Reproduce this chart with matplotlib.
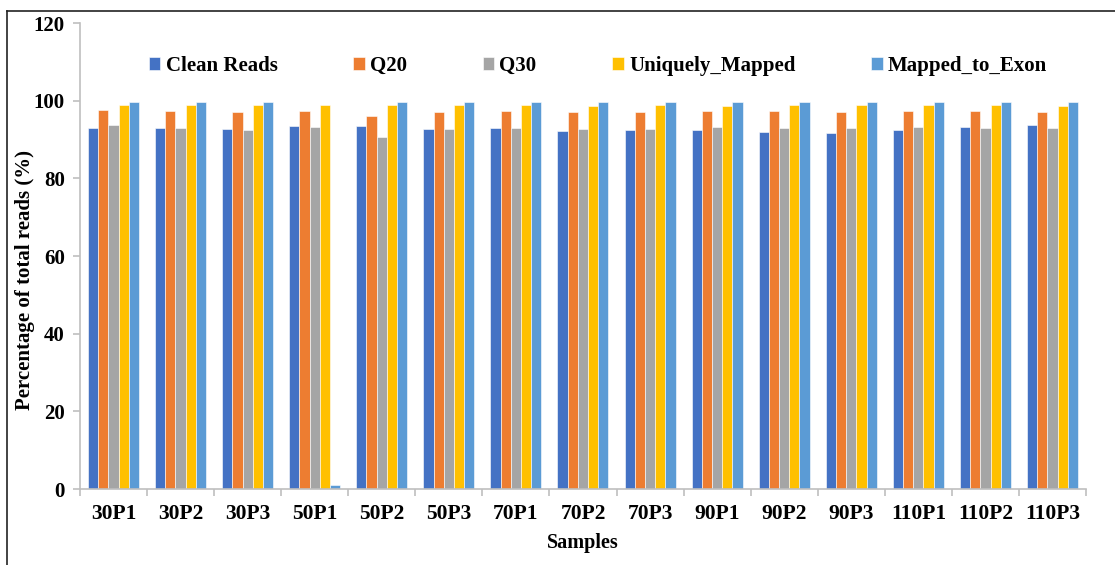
import matplotlib
matplotlib.use("Agg")
import matplotlib.pyplot as plt
from matplotlib.lines import Line2D
import numpy as np

plt.rcParams['font.family'] = ['Liberation Serif', 'DejaVu Serif']
plt.rcParams['font.weight'] = 'bold'
plt.rcParams['axes.labelweight'] = 'bold'

samples = ['30P1', '30P2', '30P3', '50P1', '50P2', '50P3', '70P1', '70P2',
           '70P3', '90P1', '90P2', '90P3', '110P1', '110P2', '110P3']

clean_reads = [92.9, 93.1, 92.7, 93.5, 93.4, 92.8, 93.1, 92.1, 92.4, 92.6, 91.9, 91.8, 92.4, 93.2, 93.7]
q20 = [97.6, 97.3, 97.1, 97.4, 96.2, 97.2, 97.3, 97.2, 97.2, 97.4, 97.3, 97.2, 97.5, 97.3, 97.2]
q30 = [93.7, 93.1, 92.6, 93.3, 90.6, 92.8, 93.1, 92.7, 92.7, 93.2, 93.1, 92.9, 93.2, 93.1, 92.9]
uniquely_mapped = [98.8, 98.9, 98.9, 98.9, 98.9, 99.0, 98.9, 98.7, 98.9, 98.7, 98.8, 98.9, 98.9, 98.9, 98.7]
mapped_to_exon = [99.7, 99.7, 99.7, 1.0, 99.7, 99.7, 99.8, 99.7, 99.7, 99.7, 99.7, 99.7, 99.7, 99.7, 99.7]

series = [
    ('Clean Reads', clean_reads, '#4472C4'),
    ('Q20', q20, '#ED7D31'),
    ('Q30', q30, '#A5A5A5'),
    ('Uniquely_Mapped', uniquely_mapped, '#FFC000'),
    ('Mapped_to_Exon', mapped_to_exon, '#5B9BD5'),
]

fig = plt.figure(figsize=(11.15, 5.65), dpi=100)
ax = fig.add_axes([0.0717, 0.1345, 0.9023, 0.8245])

x = np.arange(len(samples))
width = 0.152
for i, (name, vals, color) in enumerate(series):
    ax.bar(x + (i - 2) * width, vals, width, color=color, label=name,
           edgecolor='#ffffff', linewidth=0.4)

ax.set_xlim(-0.5, len(samples) - 0.5)
ax.set_ylim(0, 120)
ax.set_yticks(np.arange(0, 121, 20))
ax.set_xticks(x)
ax.set_xticklabels(samples)
ax.set_xticks(np.arange(-0.5, len(samples), 1), minor=True)

for side in ['top', 'right']:
    ax.spines[side].set_visible(False)
for side in ['left', 'bottom']:
    ax.spines[side].set_color('#BFBFBF')
    ax.spines[side].set_linewidth(1.2)

ax.tick_params(axis='y', length=5, color='#BFBFBF', width=1.2, labelsize=15, pad=6)
ax.tick_params(axis='x', which='major', length=0, labelsize=15.5, pad=11)
ax.tick_params(axis='x', which='minor', length=5, color='#BFBFBF', width=1.2)

ax.set_ylabel('Percentage of total reads (%)', fontsize=15)
ax.yaxis.set_label_coords(-0.045, 0.448)
ax.set_xlabel('Samples', fontsize=14.5, labelpad=6)

handles, labels = ax.get_legend_handles_labels()
ax.legend(handles, labels, loc='upper center', bbox_to_anchor=(0.515, 0.97), ncol=5,
          frameon=False, fontsize=15, handlelength=0.55, handleheight=0.55,
          handletextpad=0.25, columnspacing=3.64)

# frame lines along the top and left of the figure
fig.add_artist(Line2D([7 / 1115, 1.0], [1 - 11 / 565, 1 - 11 / 565], color='#222222', lw=1.2))
fig.add_artist(Line2D([7 / 1115, 7 / 1115], [0.0, 1 - 11 / 565], color='#222222', lw=1.2))

fig.savefig('out.png', dpi=100)
